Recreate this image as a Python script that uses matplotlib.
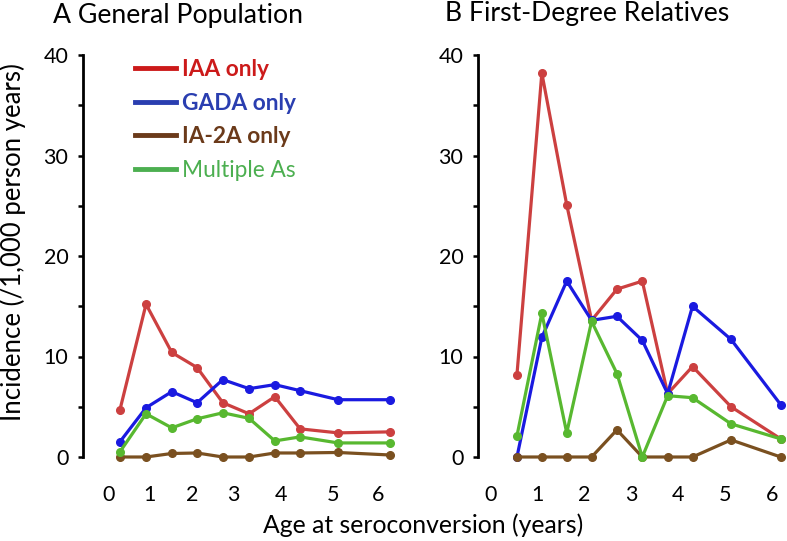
import matplotlib
matplotlib.use('Agg')
import matplotlib.pyplot as plt
from matplotlib.lines import Line2D
from matplotlib.ticker import MultipleLocator

plt.rcParams['font.family'] = ['Lato', 'DejaVu Sans']

# ---- data ----
series_names = ['IAA only', 'GADA only', 'IA-2A only', 'Multiple As']

age_gp = [0.24, 0.82, 1.39, 1.95, 2.52, 3.10, 3.67, 4.23, 5.07, 6.22]
iaa_gp = [4.65, 15.2, 10.4, 8.9, 5.4, 4.3, 6.0, 2.8, 2.4, 2.5]
gada_gp = [1.5, 4.9, 6.5, 5.4, 7.7, 6.8, 7.2, 6.6, 5.7, 5.7]
ia2a_gp = [0.0, 0.0, 0.35, 0.4, 0.0, 0.0, 0.4, 0.4, 0.45, 0.2]
mult_gp = [0.5, 4.3, 2.9, 3.8, 4.4, 3.85, 1.6, 2.0, 1.4, 1.4]

age_fdr = [0.57, 1.10, 1.63, 2.16, 2.70, 3.24, 3.78, 4.31, 5.13, 6.19]
iaa_fdr = [8.2, 38.2, 25.1, 13.6, 16.7, 17.5, 6.3, 9.0, 5.0, 1.8]
gada_fdr = [0.0, 11.9, 17.5, 13.6, 14.0, 11.6, 6.3, 15.0, 11.7, 5.2]
ia2a_fdr = [0.0, 0.0, 0.0, 0.0, 2.7, 0.0, 0.0, 0.0, 1.7, 0.0]
mult_fdr = [2.1, 14.3, 2.4, 13.5, 8.3, 0.0, 6.1, 5.9, 3.3, 1.8]

xtick_labels = ['0', '1', '2', '3', '4', '5', '6']
xticks_gp = [0, 0.9, 1.85, 2.75, 3.8, 4.95, 5.95]
xticks_fdr = [0, 1, 2, 3, 4, 5, 6]

line_colors = ['#cc4040', '#1a1ae0', '#7a5020', '#58b830']
legend_colors = ['#cc1a1a', '#2a3eb0', '#6b3a1a', '#4caf50']

fig = plt.figure(figsize=(7.87, 5.41), dpi=100)
W, H = 787, 541


def make_axes(left_px, right_px, top_px, bottom_px):
    return fig.add_axes([left_px / W, 1 - bottom_px / H,
                         (right_px - left_px) / W, (bottom_px - top_px) / H])


ax1 = make_axes(83, 395, 55, 457)
ax2 = make_axes(478, 785, 55, 457)

ax1.set_xlim(-0.575, 6.33)
ax2.set_xlim(-0.26, 6.28)

panels = [
    (ax1, age_gp, [iaa_gp, gada_gp, ia2a_gp, mult_gp], xticks_gp),
    (ax2, age_fdr, [iaa_fdr, gada_fdr, ia2a_fdr, mult_fdr], xticks_fdr),
]

for ax, ages, ys, xt in panels:
    for vals, col in zip(ys, line_colors):
        ax.plot(ages, vals, color=col, lw=2.3, marker='o', ms=5.5,
                clip_on=False, zorder=3)
    ax.set_ylim(0, 40)
    for s in ['top', 'right', 'bottom']:
        ax.spines[s].set_visible(False)
    ax.spines['left'].set_linewidth(2.0)
    ax.spines['left'].set_bounds(0, 40)
    ax.yaxis.set_major_locator(MultipleLocator(10))
    ax.yaxis.set_minor_locator(MultipleLocator(5))
    ax.tick_params(axis='y', which='both', direction='out', length=3.5,
                   width=1.8, labelsize=15.5, pad=7)
    ax.set_xticks(xt)
    ax.set_xticklabels(xtick_labels)
    ax.tick_params(axis='x', length=0, labelsize=15.5, pad=20)
    ax.set_facecolor('none')

fig.text(53 / W, 1 - 15 / H, 'A General Population', fontsize=19.2,
         ha='left', va='center')
fig.text(445 / W, 1 - 14 / H, 'B First-Degree Relatives', fontsize=19.2,
         ha='left', va='center')

fig.text(13 / W, 1 - 242 / H, 'Incidence (/1,000 person years)', fontsize=18.5,
         rotation=90, ha='center', va='center')
fig.text(423 / W, 1 - 525 / H, 'Age at seroconversion (years)', fontsize=17.8,
         ha='center', va='center')

handles = [Line2D([0], [0], color=c, lw=3.5) for c in legend_colors]
leg = ax1.legend(handles, series_names, loc='upper left',
                 bbox_to_anchor=(43 / 312, 1 + 5 / 402), frameon=False,
                 handlelength=1.8, handletextpad=0.26, labelspacing=0.56,
                 prop={'size': 16.3, 'weight': 'bold'}, borderaxespad=0)
for t, c in zip(leg.get_texts(), legend_colors):
    t.set_color(c)
leg.get_texts()[3].set_fontweight('normal')

fig.savefig('out.png', dpi=100)
